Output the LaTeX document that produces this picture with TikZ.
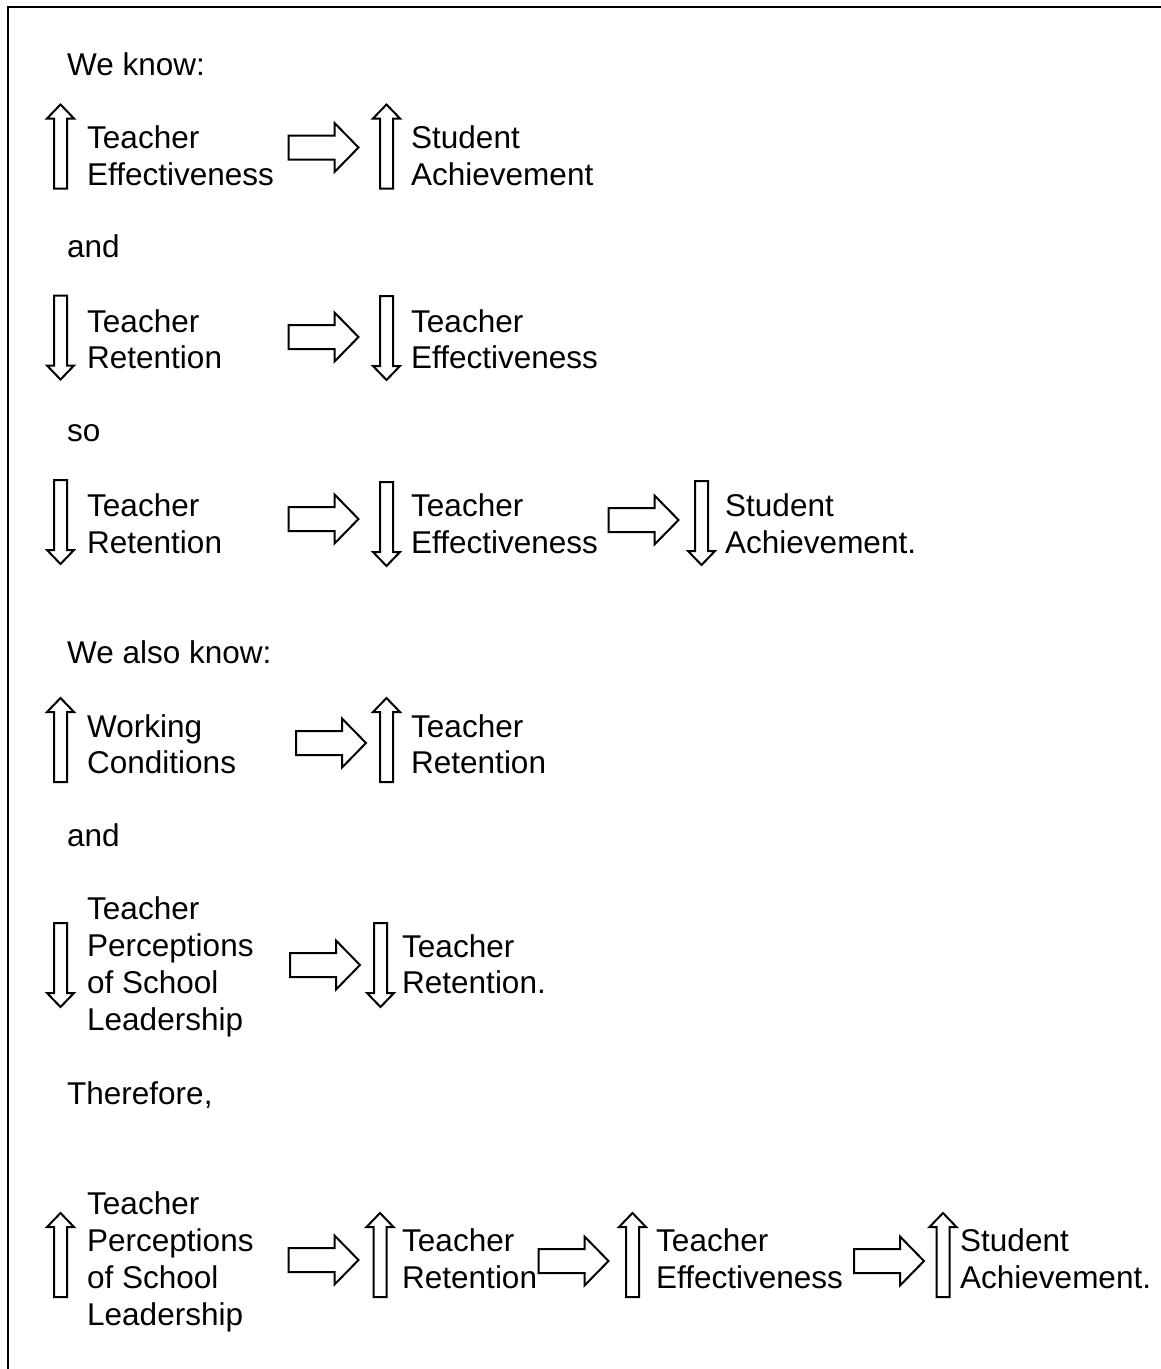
\documentclass[tikz,border=0pt]{standalone}
\usepackage{fontspec}
\setmainfont{Liberation Sans}
\begin{document}
\begin{tikzpicture}[x=1pt,y=-1pt,
  txt/.style={anchor=base west, inner sep=0pt, font=\fontsize{31.5}{37}\selectfont},
  blk/.style={draw=black, line width=2pt, fill=white, line join=miter},
  frameline/.style={draw=black, line width=2.2pt},
  uparr/.pic={\path[blk] (0,-42) -- (13.5,-28) -- (6.5,-28) -- (6.5,42) -- (-6.5,42) -- (-6.5,-28) -- (-13.5,-28) -- cycle;},
  dnarr/.pic={\path[blk] (0,42) -- (13.5,28) -- (6.5,28) -- (6.5,-42) -- (-6.5,-42) -- (-6.5,28) -- (-13.5,28) -- cycle;},
  rtarr/.pic={\path[blk] (35,0) -- (11,-24.5) -- (11,-12) -- (-35,-12) -- (-35,12) -- (11,12) -- (11,24.5) -- cycle;}
]
\useasboundingbox (0,0) rectangle (1161,1369);
% frame
\coordinate (fTL) at (8,7);
\coordinate (fTR) at (1161,7);
\coordinate (fBL) at (8,1369);
\draw[frameline] (fTR) -- (fTL) -- (fBL);

% labels
\node[txt] (l1) at (67,75) {We know:};
\node[txt] (l2) at (67,257) {and};
\node[txt] (l3) at (67,441) {so};
\node[txt] (l4) at (67,663) {We also know:};
\node[txt] (l5) at (67,846) {and};
\node[txt] (l6) at (67,1104) {Therefore,};

% row 1
\pic (a11) at (60.5,146.5) {uparr};
\node[txt] (t11a) at (87,148) {Teacher};
\node[txt] (t11b) at (87,185) {Effectiveness};
\pic (r11) at (323.5,147.5) {rtarr};
\pic (a12) at (386.5,146.5) {uparr};
\node[txt] (t12a) at (411,148) {Student};
\node[txt] (t12b) at (411,185) {Achievement};

% row 2
\pic (a21) at (60.5,337.5) {dnarr};
\node[txt] (t21a) at (87,332) {Teacher};
\node[txt] (t21b) at (87,368) {Retention};
\pic (r21) at (323.5,337) {rtarr};
\pic (a22) at (386.5,338) {dnarr};
\node[txt] (t22a) at (411,332) {Teacher};
\node[txt] (t22b) at (411,368) {Effectiveness};

% row 3
\pic (a31) at (60.5,522) {dnarr};
\node[txt] (t31a) at (87,516) {Teacher};
\node[txt] (t31b) at (87,553) {Retention};
\pic (r31) at (323.5,519) {rtarr};
\pic (a32) at (386.5,524) {dnarr};
\node[txt] (t32a) at (411,516) {Teacher};
\node[txt] (t32b) at (411,553) {Effectiveness};
\pic (r32) at (643.5,520) {rtarr};
\pic (a33) at (701.5,523) {dnarr};
\node[txt] (t33a) at (725,516) {Student};
\node[txt] (t33b) at (725,553) {Achievement.};

% row 4
\pic (a41) at (60.5,740) {uparr};
\node[txt] (t41a) at (87,737) {Working};
\node[txt] (t41b) at (87,773) {Conditions};
\pic (r41) at (331,743) {rtarr};
\pic (a42) at (386.5,740) {uparr};
\node[txt] (t42a) at (411,737) {Teacher};
\node[txt] (t42b) at (411,773) {Retention};

% row 5
\pic (a51) at (60.5,965) {dnarr};
\node[txt] (t51a) at (87,919) {Teacher};
\node[txt] (t51b) at (87,956) {Perceptions};
\node[txt] (t51c) at (87,993) {of School};
\node[txt] (t51d) at (87,1030) {Leadership};
\pic (r51) at (325,965) {rtarr};
\pic (a52) at (380.5,965) {dnarr};
\node[txt] (t52a) at (402,957) {Teacher};
\node[txt] (t52b) at (402,993) {Retention.};

% row 6
\pic (a61) at (60.5,1255) {uparr};
\node[txt] (t61a) at (87,1214) {Teacher};
\node[txt] (t61b) at (87,1251) {Perceptions};
\node[txt] (t61c) at (87,1288) {of School};
\node[txt] (t61d) at (87,1325) {Leadership};
\pic (r61) at (323.5,1260) {rtarr};
\pic (a62) at (380,1255) {uparr};
\node[txt] (t62a) at (402,1251) {Teacher};
\node[txt] (t62b) at (402,1288) {Retention};
\pic (r62) at (573.5,1261) {rtarr};
\pic (a63) at (632.5,1255) {uparr};
\node[txt] (t63a) at (656,1251) {Teacher};
\node[txt] (t63b) at (656,1288) {Effectiveness};
\pic (r63) at (889,1261) {rtarr};
\pic (a64) at (943,1255) {uparr};
\node[txt] (t64a) at (960,1251) {Student};
\node[txt] (t64b) at (960,1288) {Achievement.};
\end{tikzpicture}
\end{document}
